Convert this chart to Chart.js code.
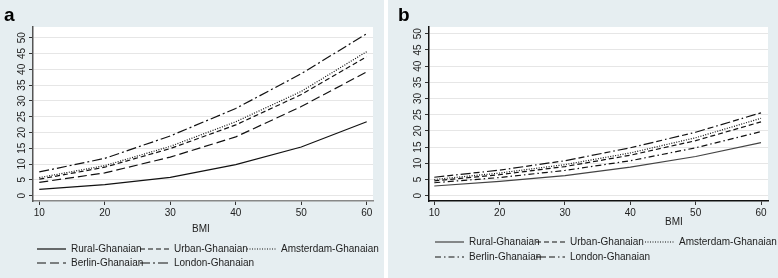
<!DOCTYPE html>
<html>
<head>
<meta charset="utf-8">
<script src="https://cdn.jsdelivr.net/npm/chart.js@4/dist/chart.umd.min.js"></script>
<style>
body { margin: 0; background: #fff; width: 778px; height: 278px; overflow: hidden; position: relative; }
.panel { position: absolute; top: 0; height: 278px; background: #e6eef1; }
#pa { left: 0; width: 384px; }
#pb { left: 388px; width: 390px; }
canvas { display: block; }
</style>
</head>
<body>
<div class="panel" id="pa"><canvas id="chartA" width="384" height="278"></canvas></div>
<div class="panel" id="pb"><canvas id="chartB" width="390" height="278"></canvas></div>
<script>
// BMI values on the x axis
const bmi = [10, 20, 30, 40, 50, 60];
const groups = ['Rural-Ghanaian', 'Urban-Ghanaian', 'Amsterdam-Ghanaian', 'Berlin-Ghanaian', 'London-Ghanaian'];
const yTicks = [0, 5, 10, 15, 20, 25, 30, 35, 40, 45, 50];

// panel a
const ruralA = [2.0, 3.5, 5.8, 9.8, 15.4, 23.4];
const urbanA = [5.2, 9.0, 14.9, 22.4, 32.0, 44.0];
const amsterdamA = [5.7, 9.5, 15.6, 23.4, 33.0, 45.6];
const berlinA = [4.2, 7.2, 12.2, 18.6, 28.2, 39.2];
const londonA = [7.5, 11.8, 18.9, 27.6, 38.6, 51.3];

// panel b
const ruralB = [3.0, 4.4, 6.2, 8.8, 12.1, 16.4];
const urbanB = [4.6, 6.5, 9.0, 12.5, 17.0, 22.8];
const amsterdamB = [5.0, 7.0, 9.6, 13.2, 17.9, 23.9];
const berlinB = [4.0, 5.6, 7.8, 10.8, 14.8, 19.8];
const londonB = [5.7, 7.9, 10.8, 14.8, 19.6, 25.6];

const FONT = 'Arial, "Liberation Sans", sans-serif';

// white plot region, panel letter, rotated y labels, BMI title and the legend
const decor = {
    id: 'decor',
    beforeDraw(chart) {
        const a = chart.chartArea;
        const ctx = chart.ctx;
        ctx.save();
        ctx.fillStyle = '#fff';
        ctx.fillRect(a.left, a.top, a.right - a.left, a.bottom - a.top);
        ctx.restore();
    },
    afterDraw(chart, args, opts) {
        const ctx = chart.ctx;
        const y = chart.scales.y;
        ctx.save();
        ctx.fillStyle = '#000';
        ctx.font = 'bold 19px ' + FONT;
        ctx.textAlign = 'left';
        ctx.textBaseline = 'alphabetic';
        ctx.fillText(opts.letter, opts.letterX, 21);

        ctx.fillStyle = '#222';
        ctx.font = '10px ' + FONT;
        ctx.textAlign = 'center';
        ctx.textBaseline = 'middle';
        yTicks.forEach(v => {
            ctx.save();
            ctx.translate(opts.yLabelX, y.getPixelForValue(v));
            ctx.rotate(-Math.PI / 2);
            ctx.fillText(String(v), 0, 0);
            ctx.restore();
        });

        ctx.fillText('BMI', opts.bmiX, opts.bmiY);

        ctx.textAlign = 'left';
        chart.data.datasets.forEach((ds, i) => {
            const p = opts.legend[i];
            ctx.save();
            ctx.strokeStyle = ds.borderColor;
            ctx.lineWidth = 1.2;
            ctx.setLineDash(ds.borderDash);
            ctx.beginPath();
            ctx.moveTo(p[0], p[1]);
            ctx.lineTo(p[0] + 29, p[1]);
            ctx.stroke();
            ctx.restore();
            ctx.fillText(ds.label, p[0] + 34, p[1] + 0.5);
        });
        ctx.restore();
    }
};

function makeChart(id, series, dashes, colors, cfg) {
    return new Chart(document.getElementById(id), {
        type: 'line',
        data: {
            datasets: series.map((s, i) => ({
                label: groups[i],
                data: bmi.map((b, j) => ({ x: b, y: s[j] })),
                borderColor: colors[i],
                borderWidth: 1.2,
                borderDash: dashes[i],
                pointRadius: 0,
                tension: 0,
                fill: false
            }))
        },
        options: {
            responsive: false,
            animation: false,
            events: [],
            layout: { padding: { left: 0, top: 27, right: cfg.padRight, bottom: 37 } },
            plugins: {
                legend: { display: false },
                tooltip: { enabled: false },
                decor: cfg.decor
            },
            scales: {
                x: {
                    type: 'linear',
                    min: cfg.xMin,
                    max: cfg.xMax,
                    afterBuildTicks: s => { s.ticks = bmi.map(v => ({ value: v })); },
                    afterFit: s => { s.height = 40; },
                    grid: { drawOnChartArea: false, drawTicks: true, tickLength: 4, tickColor: '#333' },
                    border: { color: cfg.xAxisColor, width: 1.5 },
                    ticks: { autoSkip: false, maxRotation: 0, padding: 2, color: '#222', font: { family: FONT, size: 10 } }
                },
                y: {
                    min: cfg.yMin,
                    max: cfg.yMax,
                    afterBuildTicks: s => { s.ticks = yTicks.map(v => ({ value: v })); },
                    afterFit: s => { s.width = cfg.yWidth; },
                    grid: { color: '#e6e6e6', lineWidth: 1, drawTicks: true, tickLength: 4, tickColor: '#333' },
                    border: { color: cfg.yAxisColor, width: 1.5 },
                    ticks: { display: false }
                }
            }
        },
        plugins: [decor]
    });
}

makeChart('chartA',
    [ruralA, urbanA, amsterdamA, berlinA, londonA],
    [[], [5, 3], [1, 1.5], [9, 4], [10, 3, 2, 3]],
    ['#111', '#111', '#111', '#111', '#111'],
    {
        padRight: 11, yWidth: 33,
        xMin: 9.04, xMax: 60.96, yMin: -1.7, yMax: 53.4,
        xAxisColor: '#888', yAxisColor: '#555',
        decor: {
            letter: 'a', letterX: 4, yLabelX: 22, bmiX: 201, bmiY: 229,
            legend: [[37, 249], [140, 249], [247, 249], [37, 263], [140, 263]]
        }
    });

makeChart('chartB',
    [ruralB, urbanB, amsterdamB, berlinB, londonB],
    [[], [5, 3], [1, 1.5], [6, 3, 1.5, 3], [10, 3, 6, 3, 1.5, 3]],
    ['#444', '#111', '#111', '#111', '#111'],
    {
        padRight: 10, yWidth: 41,
        xMin: 9.19, xMax: 61.07, yMin: -1.64, yMax: 52.1,
        xAxisColor: '#111', yAxisColor: '#111',
        decor: {
            letter: 'b', letterX: 10, yLabelX: 30, bmiX: 286, bmiY: 222,
            legend: [[47, 242], [148, 242], [257, 242], [47, 257], [148, 257]]
        }
    });
</script>
</body>
</html>
